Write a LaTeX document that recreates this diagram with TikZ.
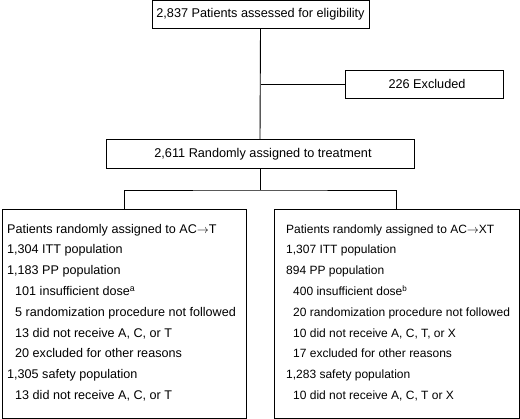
\documentclass[tikz,border=0pt]{standalone}
\usepackage{fontspec}
\setmainfont{Liberation Sans}
\usetikzlibrary{positioning}

\begin{document}
\begin{tikzpicture}[x=1pt,y=-1pt,font=\fontsize{12.7}{20.8}\selectfont,
  flowbox/.style={draw,line width=.9pt,inner sep=0pt},
  armbox/.style={flowbox,minimum width=244pt,minimum height=209pt},
  armtext/.style={anchor=north west,inner sep=0pt,align=left},
  link/.style={line width=.9pt}]
\useasboundingbox (0,0) rectangle (520,419);
\node[flowbox,minimum width=217pt,minimum height=28pt] (assessed) at (260.5,14.5){2,837 Patients assessed for eligibility};
\node[flowbox,minimum width=158pt,minimum height=28pt] (excluded) at (424,84){\hspace*{6pt}226 Excluded};
\node[flowbox,minimum width=308pt,minimum height=29pt] (random) at (260,154){\hspace*{6pt}2,611 Randomly assigned to treatment};
\node[armbox] (armT) at (124,313.5){};
\node[armbox,minimum width=245pt] (armXT) at (396.5,313.5){};
\node[armtext,font=\fontsize{12.6}{20.8}\selectfont] (listT) at (7,223.8){Patients randomly assigned to AC$\to$T\\
1,304 ITT population\\
1,183 PP population\\
\hspace*{8pt}101 insufficient dose\textsuperscript{a}\\
\hspace*{8pt}5 randomization procedure not followed\\
\hspace*{8pt}13 did not receive A, C, or T\\
\hspace*{8pt}20 excluded for other reasons\\
1,305 safety population\\
\hspace*{8pt}13 did not receive A, C, or T};
\node[armtext,font=\fontsize{12}{20.8}\selectfont] (listXT) at (286,224.2){Patients randomly assigned to AC$\to$XT\\
1,307 ITT population\\
894 PP population\\
\hspace*{7pt}400 insufficient dose\textsuperscript{b}\\
\hspace*{7pt}20 randomization procedure not followed\\
\hspace*{7pt}10 did not receive A, C, T, or X\\
\hspace*{7pt}17 excluded for other reasons\\
1,283 safety population\\
\hspace*{7pt}10 did not receive A, C, T or X};
\coordinate (fork) at (260,190);
% connectors
\draw[link] (assessed.south) -- (random.north);
\draw[link] (excluded.west) -- (excluded.west -| assessed.south);
\draw[link] (random.south) -- (fork);
\draw[link] (armT.north) |- (fork) -| (armXT.north);
\end{tikzpicture}
\end{document}
